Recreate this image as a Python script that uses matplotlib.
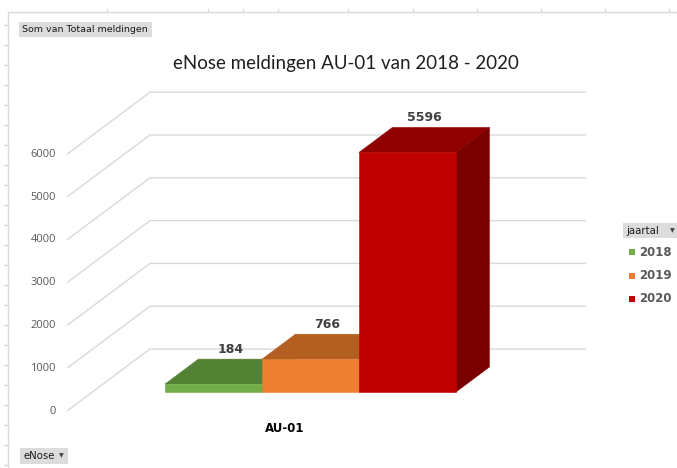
import matplotlib
matplotlib.use("Agg")
import matplotlib.pyplot as plt
from matplotlib.patches import Polygon, Rectangle

### Data ###
category = "AU-01"
years = ["2018", "2019", "2020"]
meldingen = [184, 766, 5596]
y_ticks = [0, 1000, 2000, 3000, 4000, 5000, 6000]
title = "eNose meldingen AU-01 van 2018 - 2020"

front_colors = ["#70AD47", "#ED7D31", "#C00000"]
top_colors = ["#548235", "#B45F22", "#900000"]
side_colors = ["#466d2c", "#9c4f16", "#7A0000"]

### Layout (pixels of the 677x468 picture) ###
W, H = 677, 468
K = 42.8 / 1000.0          # px per melding
ZERO_PX = 411              # y pixel of the value 0 on the front plane
FRONT_L, FRONT_R = 67, 503 # front plane of the plot
DEPTH_DX, DEPTH_DY = 83, 62
UNIT = FRONT_R - FRONT_L   # px per category unit
CENTER = (FRONT_L + FRONT_R) / 2

DX = DEPTH_DX / UNIT       # depth shift in category units
DV = DEPTH_DY / K          # depth shift in value units
BAR_D0 = 19 / DEPTH_DY
BAR_D1 = BAR_D0 + 25 / DEPTH_DY
BAR_W = 97 / UNIT


def proj(x, v, d):
    return (x + DX * d, v + DV * d)


def fx(px):
    return px / W


def fy(py):
    return 1 - py / H


fig = plt.figure(figsize=(W / 100, H / 100), dpi=100)
ax = fig.add_axes([0, 0, 1, 1])
ax.set_xlim((0 - CENTER) / UNIT, (W - CENTER) / UNIT)
ax.set_ylim(-(H - ZERO_PX) / K, ZERO_PX / K)
ax.axis("off")

# gridlines: front-left -> back wall
for v in y_ticks:
    p0 = proj(-0.5, v, 0)
    p1 = proj(-0.5, v, 1)
    p2 = proj(0.5, v, 1)
    ax.plot([p0[0], p1[0], p2[0]], [p0[1], p1[1], p2[1]],
            color="#d9d9d9", lw=1, solid_capstyle="butt", zorder=1)
    ax.annotate(str(v), (-0.5, v), xytext=(-11, 0), textcoords="offset pixels",
                ha="right", va="center", fontsize=8, color="#595959",
                family="Open Sans")

# bars, left to right so each one hides the side of the previous
n = len(meldingen)
x_start = -n * BAR_W / 2
for i, v in enumerate(meldingen):
    x0 = x_start + i * BAR_W
    x1 = x0 + BAR_W
    front = [proj(x0, 0, BAR_D0), proj(x1, 0, BAR_D0),
             proj(x1, v, BAR_D0), proj(x0, v, BAR_D0)]
    top = [proj(x0, v, BAR_D0), proj(x1, v, BAR_D0),
           proj(x1, v, BAR_D1), proj(x0, v, BAR_D1)]
    side = [proj(x1, 0, BAR_D0), proj(x1, 0, BAR_D1),
            proj(x1, v, BAR_D1), proj(x1, v, BAR_D0)]
    for pts, col in [(side, side_colors[i]), (top, top_colors[i]),
                     (front, front_colors[i])]:
        ax.add_patch(Polygon(pts, closed=True, facecolor=col, edgecolor=col,
                             lw=0.4, zorder=2 + i))
    lx, ly = proj((x0 + x1) / 2, v, BAR_D1)
    ax.annotate(str(v), (lx - DX * (BAR_D1 - BAR_D0) / 2, ly),
                xytext=(0, 10), textcoords="offset pixels",
                ha="center", va="center", fontsize=9, fontweight="bold",
                color="#404040", zorder=10)

# category label
ax.annotate(category, (0, 0), xytext=(0, -18), textcoords="offset pixels",
            ha="center", va="center", fontsize=8.5, fontweight="bold",
            color="black")

# title
fig.text(fx(346), fy(63), title, ha="center", va="center",
         fontsize=13.5, color="#1f1f1f", family="Lato")

# chart border and worksheet cell marks
ax.plot([(8 - CENTER) / UNIT] * 2, [-(H - ZERO_PX) / K, (ZERO_PX - 12) / K],
        color="#d9d9d9", lw=1)
ax.plot([(8 - CENTER) / UNIT, (W - CENTER) / UNIT], [(ZERO_PX - 12) / K] * 2,
        color="#d9d9d9", lw=1)
for px in [107, 208, 243, 278, 348, 413, 477, 541, 605, 669]:
    fig.add_artist(plt.Line2D([fx(px), fx(px)], [fy(9), fy(12)],
                              color="#d9d9d9", lw=1))
for py in range(25, 468, 20):
    fig.add_artist(plt.Line2D([fx(4), fx(8)], [fy(py), fy(py)],
                              color="#d9d9d9", lw=1))

# pivot field buttons
def button(x0, y0, x1, y1, label, size, arrow=False):
    fig.add_artist(Rectangle((fx(x0), fy(y1)), fx(x1 - x0), (y1 - y0) / H,
                             facecolor="#dcdcdc", edgecolor="none"))
    fig.text(fx(x0 + 3), fy((y0 + y1) / 2), label, ha="left", va="center",
             fontsize=size, color="#1a1a1a", family="DejaVu Sans")
    if arrow:
        fig.text(fx(x1 - 7), fy((y0 + y1) / 2), "\u25BC", ha="center",
                 va="center", fontsize=4.5, color="#404040")


button(19, 22, 152, 37, "Som van Totaal meldingen", 6.8)
button(20, 448, 68, 464, "eNose", 7.3, arrow=True)
button(623, 223, 679, 238, "jaartal", 7.3, arrow=True)

# legend
for i, yr in enumerate(years):
    py = 252 + i * 23.5
    fig.add_artist(Rectangle((fx(629), fy(py + 3)), fx(6), 6 / H,
                             facecolor=front_colors[i], edgecolor="none"))
    fig.text(fx(639), fy(py), yr, ha="left", va="center", fontsize=8.5,
             fontweight="bold", color="#595959")

fig.savefig("out.png", dpi=100)
